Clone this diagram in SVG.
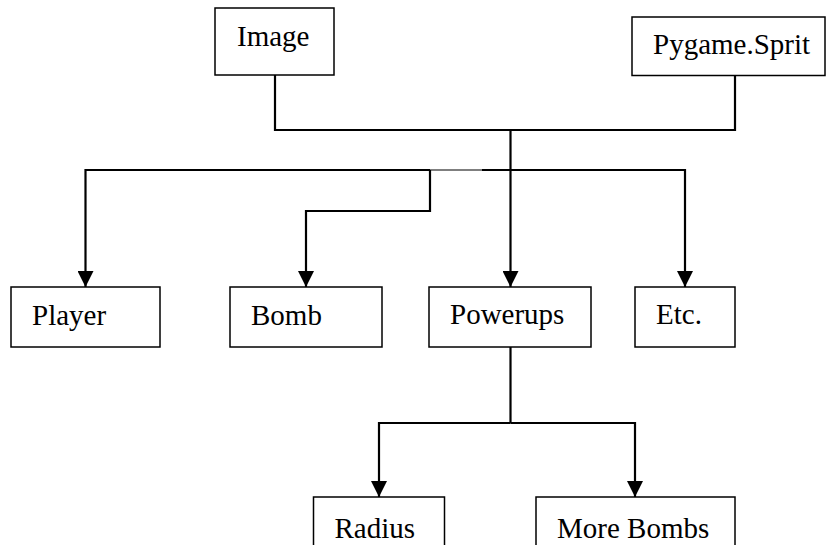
<svg xmlns="http://www.w3.org/2000/svg" width="826" height="545" viewBox="0 0 826 545">
<defs>
<style>
.box{fill:#fff;stroke:#000;stroke-width:1.5}
.lbl{font-family:"Liberation Serif","Times New Roman",serif;font-size:29px;fill:#000}
.ln{fill:none;stroke:#000;stroke-width:2.2}
.thin{fill:none;stroke:#000;stroke-width:1.2}
</style>
<marker id="arr" markerUnits="userSpaceOnUse" markerWidth="16" markerHeight="16" refX="15" refY="7.5" orient="auto" viewBox="0 0 15 15">
<path d="M0,0 L15,7.5 L0,15 z" fill="#000"/>
</marker>
</defs>
<rect width="826" height="545" fill="#fff"/>
<g id="connectors">
<path class="ln" d="M275,75 V130 H735 V75"/>
<path class="ln" d="M510.5,130 V287" marker-end="url(#arr)"/>
<path class="ln" d="M430,170 H85.5 V287" marker-end="url(#arr)"/>
<path class="thin" d="M430,170 H482"/>
<path class="ln" d="M430,170 V211 H306 V287" marker-end="url(#arr)"/>
<path class="ln" d="M482,170 H685 V287" marker-end="url(#arr)"/>
<path class="ln" d="M510.5,347 V423"/>
<path class="ln" d="M510.5,423 H379 V497" marker-end="url(#arr)"/>
<path class="ln" d="M510.5,423 H635 V497" marker-end="url(#arr)"/>
</g>
<g id="image"><rect class="box" x="215" y="8" width="119" height="67"/><text class="lbl" x="237" y="46">Image</text></g>
<g id="sprite"><rect class="box" x="632" y="17" width="193" height="58.5"/><text class="lbl" x="653" y="54">Pygame.Sprit</text></g>
<g id="player"><rect class="box" x="11" y="287" width="149" height="60"/><text class="lbl" x="32" y="325">Player</text></g>
<g id="bomb"><rect class="box" x="230" y="287" width="152" height="60"/><text class="lbl" x="251" y="325">Bomb</text></g>
<g id="powerups"><rect class="box" x="429" y="287" width="162" height="60"/><text class="lbl" x="450" y="324">Powerups</text></g>
<g id="etc"><rect class="box" x="635" y="287" width="100" height="60"/><text class="lbl" x="656" y="324">Etc.</text></g>
<g id="radius"><rect class="box" x="313.5" y="497" width="131" height="70"/><text class="lbl" x="334.5" y="538">Radius</text></g>
<g id="morebombs"><rect class="box" x="536" y="497" width="199" height="70"/><text class="lbl" x="557" y="538">More Bombs</text></g>
</svg>
